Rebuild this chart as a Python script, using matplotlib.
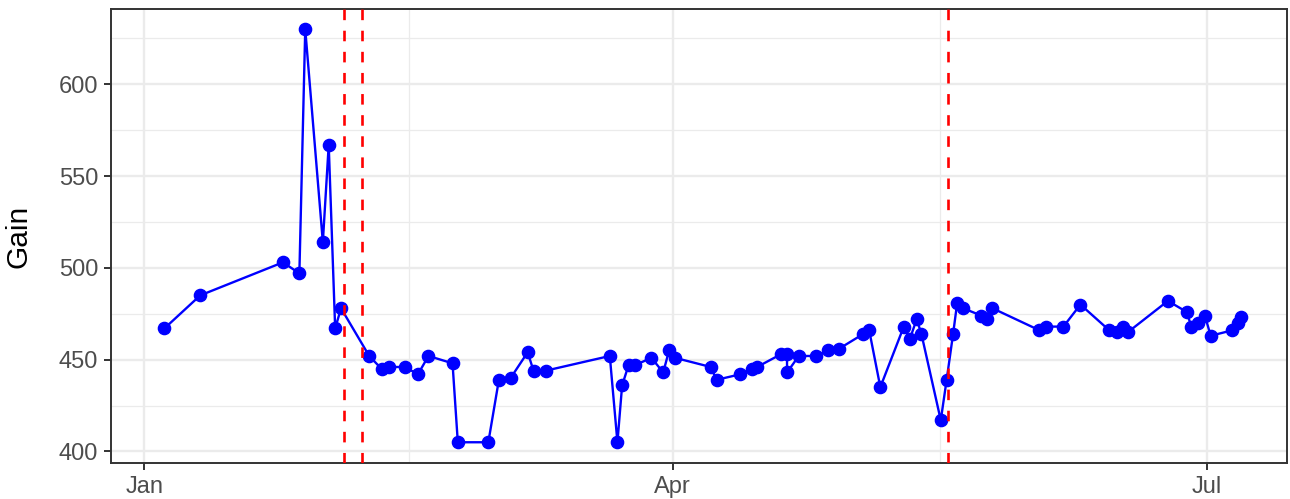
import numpy as np
import matplotlib
matplotlib.use("Agg")
import matplotlib.pyplot as plt
import matplotlib.dates as mdates
from matplotlib.ticker import FixedLocator

# data: days since 1 Jan, gain value
start = "2019-01-01"
days = [3.4, 9.5, 23.6, 26.4, 27.4, 30.4, 31.4, 32.5, 33.5, 38.3, 40.4, 41.7,
        44.4, 46.6, 48.4, 52.5, 53.4, 58.6, 60.4, 62.4, 65.3, 66.3, 68.4, 79.3,
        80.6, 81.4, 82.5, 83.6, 86.4, 88.4, 89.4, 90.4, 96.5, 97.5, 101.5, 103.5,
        104.4, 108.5, 109.5, 109.5, 111.5, 114.5, 116.5, 118.4, 122.5, 123.5,
        125.4, 129.4, 130.4, 131.6, 132.4, 135.7, 136.7, 137.8, 138.5, 139.5,
        142.6, 143.6, 144.5, 152.5, 153.7, 156.6, 159.5, 164.4, 165.7, 166.7,
        167.6, 174.4, 177.6, 178.4, 179.6, 180.7, 181.7, 185.4, 186.4, 186.8]
gain = [467, 485, 503, 497, 630, 514, 567, 467, 478, 452, 445, 446,
        446, 442, 452, 448, 405, 405, 439, 440, 454, 444, 444, 452,
        405, 436, 447, 447, 451, 443, 455, 451, 446, 439, 442, 445,
        446, 453, 453, 443, 452, 452, 455, 456, 464, 466,
        435, 468, 461, 472, 464, 417, 439, 464, 481, 478,
        474, 472, 478, 466, 468, 468, 480, 466, 465, 468,
        465, 482, 476, 468, 470, 474, 463, 466, 470, 473]
events = ["2019-02-04", "2019-02-07", "2019-05-18"]
tick_dates = ["2019-01-01", "2019-04-01", "2019-07-01"]

plt.rcParams['font.family'] = ['Liberation Sans', 'DejaVu Sans']

base = mdates.datestr2num(start)
x = base + np.array(days)

fig = plt.figure(figsize=(12.9, 4.99), dpi=100)
ax = fig.add_axes([111/1290, 36/499, 1176/1290, 454/499])

ax.plot(x, gain, color='#0000FF', lw=1.7, marker='o', ms=8.8, zorder=3)
for e in events:
    ax.axvline(mdates.datestr2num(e), color='#FF0000', lw=1.9, dashes=(4, 4), zorder=4)

# axes, ticks, grid
ax.set_xlim(base - 5.7, base + 194.7)
ax.set_ylim(393.7, 641)
major_x = [mdates.datestr2num(d) for d in tick_dates]
ax.xaxis.set_major_locator(FixedLocator(major_x))
ax.xaxis.set_major_formatter(mdates.DateFormatter('%b'))
ax.xaxis.set_minor_locator(FixedLocator([(a + b) / 2 for a, b in zip(major_x[:-1], major_x[1:])]))
ax.set_yticks([400, 450, 500, 550, 600])
ax.set_yticks([425, 475, 525, 575, 625], minor=True)

ax.grid(which='major', color='#EBEBEB', lw=1.7, zorder=0)
ax.grid(which='minor', color='#EBEBEB', lw=0.9, zorder=0)
ax.set_axisbelow(True)
ax.tick_params(which='major', length=4.7, width=1.4, color='#333333',
               labelcolor='#4D4D4D', labelsize=17, pad=4.5)
ax.tick_params(which='minor', length=0)
for s in ax.spines.values():
    s.set_color('#333333')
    s.set_linewidth(1.4)

ax.set_ylabel('Gain', fontsize=21.5, color='black', labelpad=19)

fig.savefig('out.png', dpi=100)
